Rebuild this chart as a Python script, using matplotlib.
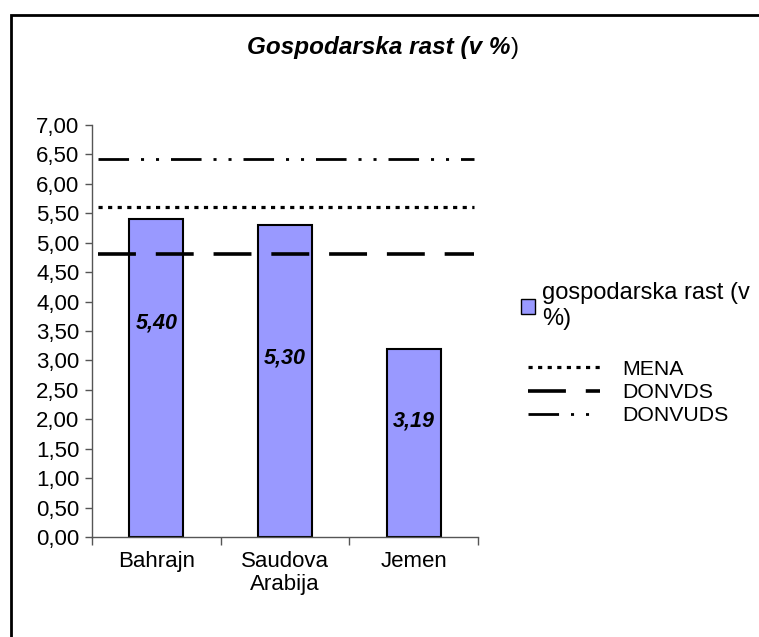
import matplotlib
matplotlib.use('Agg')
import matplotlib.pyplot as plt
from matplotlib.patches import Rectangle, Patch
from matplotlib.lines import Line2D

plt.rcParams['font.family'] = ['Liberation Sans', 'DejaVu Sans']

# data
countries = ['Bahrajn', 'Saudova\nArabija', 'Jemen']
growth = [5.40, 5.30, 3.19]
growth_labels = ['5,40', '5,30', '3,19']
ref_names = ['MENA', 'DONVDS', 'DONVUDS']
ref_values = [5.60, 4.80, 6.42]
yticks = [0.0, 0.5, 1.0, 1.5, 2.0, 2.5, 3.0, 3.5, 4.0, 4.5, 5.0, 5.5, 6.0, 6.5, 7.0]

# where the value labels sit inside the bars (Excel placed them by hand)
label_y = [3.63, 3.04, 1.97]

fig = plt.figure(figsize=(7.59, 6.37), dpi=100)
ax = fig.add_axes([0.1212, 0.157, 0.5086, 0.6468])

x = list(range(len(countries)))
ax.bar(x, growth, width=0.42, color='#9999FF', edgecolor='black', linewidth=1.5, zorder=2)
for xi, yl, txt in zip(x, label_y, growth_labels):
    ax.text(xi, yl, txt, ha='center', va='center', fontsize=15.5,
            fontweight='bold', fontstyle='italic', zorder=3)

styles = [
    dict(linestyle=(0, (1.3, 1.7)), linewidth=2.3),
    dict(linestyle=(0, (10.5, 5.5)), linewidth=2.6),
    dict(linestyle=(0, (11, 4.3, 1.1, 4.3, 1.1, 4.3)), linewidth=2.0),
]
for val, st in zip(ref_values, styles):
    ax.plot([-0.45, 2.47], [val, val], color='black', solid_capstyle='butt',
            dash_capstyle='butt', zorder=4, **st)

ax.set_xlim(-0.5, 2.5)
ax.set_ylim(0, 7)
ax.set_yticks(yticks)
ax.set_yticklabels(['{:.2f}'.format(v).replace('.', ',') for v in yticks], fontsize=16)
ax.set_xticks(x)
ax.set_xticklabels(countries, fontsize=16, linespacing=1.15)
ax.set_xticks([-0.5, 0.5, 1.5, 2.5], minor=True)
ax.tick_params(axis='x', which='major', length=0, pad=10)
ax.tick_params(axis='x', which='minor', length=6, width=1, color='#555555', direction='out')
ax.tick_params(axis='y', length=5, width=1, color='#555555', direction='out', pad=4)
for s in ['top', 'right']:
    ax.spines[s].set_visible(False)
for s in ['left', 'bottom']:
    ax.spines[s].set_color('#555555')
    ax.spines[s].set_linewidth(1)

# title, the closing bracket is not bold/italic in the original
fig.text(0.672, 0.925, 'Gospodarska rast (v %', ha='right', va='center',
         fontsize=17.5, fontweight='bold', fontstyle='italic')
fig.text(0.673, 0.925, ')', ha='left', va='center', fontsize=17.5)

# legend
leg1 = fig.legend([Patch(facecolor='#9999FF', edgecolor='black', linewidth=1)],
                  ['gospodarska rast (v\n%)'], loc='upper left',
                  bbox_to_anchor=(0.686, 0.557), frameon=False, fontsize=17,
                  handlelength=0.6, handleheight=0.6, handletextpad=0.3,
                  borderaxespad=0, borderpad=0)
handles = [Line2D([0], [0], color='black', solid_capstyle='butt', dash_capstyle='butt', **st)
           for st in styles]
leg2 = fig.legend(handles, ref_names, loc='upper left', bbox_to_anchor=(0.695, 0.435),
                  frameon=False, fontsize=15.3, handlelength=3.4, handletextpad=1.05,
                  labelspacing=0.2, borderaxespad=0, borderpad=0)

# outer frame (cut off at right and bottom)
fig.patches.append(Rectangle((11 / 759, -0.1), 1.2, 1 - 14.5 / 637 + 0.1,
                             transform=fig.transFigure, fill=False,
                             edgecolor='black', linewidth=2.0))

fig.savefig('out.png', dpi=100)
